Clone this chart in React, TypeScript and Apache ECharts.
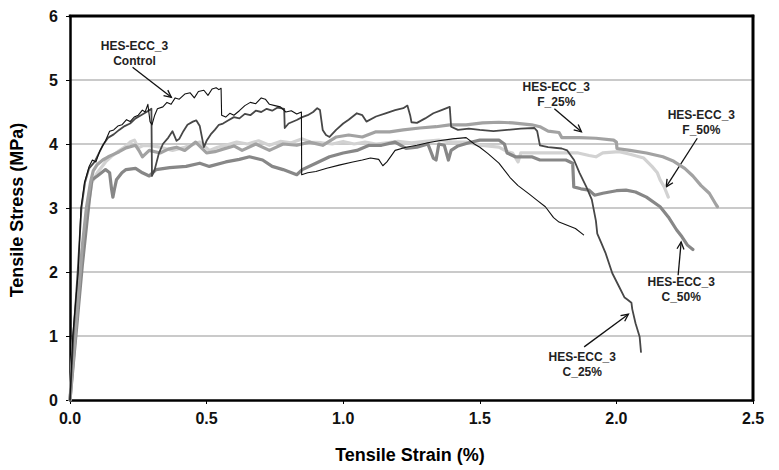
import React, { useEffect, useRef } from "react";
import * as echarts from "echarts";

const xTicks = [0, 0.5, 1.0, 1.5, 2.0, 2.5];
const yTicks = [0, 1, 2, 3, 4, 5, 6];

const controlData: number[][] = [
  [0, 0], [0.01, 1.0], [0.03, 2.0], [0.04, 3.0], [0.053, 3.4], [0.07, 3.65], [0.082, 3.75], [0.095, 3.72],
  [0.11, 3.9], [0.13, 4.05], [0.145, 4.2], [0.16, 4.22], [0.175, 4.28], [0.19, 4.3], [0.207, 4.38], [0.22, 4.35],
  [0.235, 4.42], [0.25, 4.45], [0.265, 4.53], [0.275, 4.5], [0.285, 4.62], [0.293, 4.35], [0.3, 4.3], [0.31, 4.45],
  [0.32, 4.55], [0.34, 4.58], [0.355, 4.65], [0.37, 4.62], [0.385, 4.72], [0.4, 4.7], [0.42, 4.78], [0.44, 4.8],
  [0.455, 4.72], [0.47, 4.82], [0.49, 4.84], [0.505, 4.76], [0.52, 4.86], [0.535, 4.88], [0.545, 4.85], [0.553, 4.87],
  [0.555, 4.45], [0.57, 4.42], [0.585, 4.48], [0.6, 4.45], [0.62, 4.52], [0.64, 4.6], [0.66, 4.65], [0.68, 4.63],
  [0.7, 4.72], [0.715, 4.7], [0.73, 4.62], [0.75, 4.6], [0.77, 4.58], [0.79, 4.5], [0.81, 4.52], [0.83, 4.47],
  [0.847, 4.5], [0.848, 3.52], [0.87, 3.55], [0.9, 3.57], [0.94, 3.62], [0.985, 3.67], [1.035, 3.72], [1.07, 3.75],
  [1.1, 3.78], [1.13, 3.76], [1.145, 3.66], [1.16, 3.72], [1.19, 3.9], [1.23, 3.95], [1.27, 3.98], [1.31, 4.02],
  [1.35, 4.05], [1.4, 4.08], [1.45, 4.1], [1.48, 4.0], [1.5, 3.95], [1.53, 3.85], [1.57, 3.7], [1.61, 3.48],
  [1.64, 3.35], [1.68, 3.22], [1.71, 3.12], [1.74, 3.02], [1.77, 2.85], [1.79, 2.78], [1.82, 2.73], [1.85, 2.68],
  [1.88, 2.58],
];

const c25Data: number[][] = [
  [0, 0], [0.012, 1.0], [0.028, 2.0], [0.042, 3.0], [0.055, 3.4], [0.07, 3.62], [0.09, 3.72], [0.105, 3.85],
  [0.12, 3.98], [0.14, 4.1], [0.16, 4.15], [0.18, 4.22], [0.2, 4.28], [0.22, 4.32], [0.24, 4.4], [0.26, 4.45],
  [0.28, 4.5], [0.298, 4.55], [0.3, 3.5], [0.31, 3.6], [0.325, 3.85], [0.34, 4.0], [0.36, 4.1], [0.375, 4.2],
  [0.39, 4.05], [0.4, 4.08], [0.415, 4.2], [0.43, 4.3], [0.45, 4.35], [0.462, 4.37], [0.475, 4.28], [0.49, 3.95],
  [0.5, 4.05], [0.515, 4.15], [0.53, 4.22], [0.545, 4.3], [0.56, 4.32], [0.58, 4.37], [0.6, 4.42], [0.62, 4.4],
  [0.64, 4.47], [0.66, 4.45], [0.68, 4.52], [0.7, 4.5], [0.72, 4.55], [0.74, 4.52], [0.76, 4.57], [0.784, 4.55],
  [0.786, 4.25], [0.8, 4.32], [0.83, 4.375], [0.85, 4.42], [0.87, 4.45], [0.89, 4.5], [0.905, 4.56], [0.915, 4.53],
  [0.925, 4.22], [0.937, 4.14], [0.95, 4.11], [0.974, 4.22], [1.0, 4.32], [1.02, 4.38], [1.05, 4.48], [1.07, 4.45],
  [1.085, 4.35], [1.12, 4.43], [1.155, 4.48], [1.19, 4.53], [1.22, 4.56], [1.235, 4.6], [1.245, 4.45], [1.25, 4.34],
  [1.27, 4.33], [1.3, 4.4], [1.33, 4.48], [1.36, 4.53], [1.39, 4.58], [1.395, 4.27], [1.42, 4.22], [1.46, 4.24],
  [1.5, 4.22], [1.55, 4.2], [1.6, 4.22], [1.65, 4.24], [1.7, 4.25], [1.71, 4.2], [1.72, 3.98], [1.75, 3.95],
  [1.8, 3.93], [1.82, 3.9], [1.845, 3.75], [1.865, 3.55], [1.89, 3.33], [1.91, 3.13], [1.925, 2.8], [1.93, 2.6],
  [1.945, 2.45], [1.96, 2.3], [1.985, 1.98], [2.01, 1.77], [2.03, 1.6], [2.04, 1.57], [2.055, 1.52], [2.058, 1.42],
  [2.07, 1.2], [2.085, 0.99], [2.09, 0.75],
];

const f25Data: number[][] = [
  [0, 0], [0.015, 0.8], [0.03, 1.6], [0.045, 2.4], [0.06, 3.0], [0.075, 3.4], [0.085, 3.58], [0.1, 3.68],
  [0.12, 3.75], [0.14, 3.8], [0.155, 3.83], [0.18, 3.88], [0.205, 3.94], [0.24, 3.98], [0.255, 3.88], [0.265, 3.8],
  [0.29, 3.9], [0.33, 3.86], [0.36, 3.92], [0.39, 3.95], [0.42, 3.9], [0.46, 4.03], [0.5, 3.86], [0.53, 3.88],
  [0.56, 3.92], [0.6, 3.97], [0.63, 3.9], [0.68, 4.0], [0.73, 3.9], [0.78, 4.0], [0.83, 3.98], [0.876, 4.03],
  [0.925, 3.98], [0.975, 4.11], [1.02, 4.14], [1.07, 4.11], [1.12, 4.19], [1.17, 4.19], [1.22, 4.22], [1.28, 4.25],
  [1.34, 4.27], [1.39, 4.3], [1.45, 4.3], [1.51, 4.33], [1.57, 4.34], [1.62, 4.33], [1.69, 4.3], [1.72, 4.27],
  [1.75, 4.2], [1.79, 4.18], [1.8, 4.1], [1.865, 4.1], [1.925, 4.09], [1.99, 4.06], [2.0, 4.03], [2.002, 3.93],
  [2.05, 3.9], [2.11, 3.86], [2.17, 3.8], [2.21, 3.73], [2.25, 3.62], [2.28, 3.5], [2.31, 3.35], [2.34, 3.23],
  [2.365, 3.05], [2.37, 3.02],
];

const c50Data: number[][] = [
  [0, 0], [0.015, 0.7], [0.03, 1.4], [0.045, 2.1], [0.06, 2.7], [0.07, 3.1], [0.08, 3.44], [0.1, 3.5],
  [0.13, 3.6], [0.145, 3.55], [0.152, 3.3], [0.157, 3.17], [0.163, 3.3], [0.17, 3.44], [0.19, 3.55], [0.205, 3.6],
  [0.24, 3.62], [0.265, 3.55], [0.29, 3.5], [0.315, 3.6], [0.365, 3.63], [0.425, 3.65], [0.475, 3.7], [0.51, 3.65],
  [0.57, 3.72], [0.62, 3.76], [0.657, 3.8], [0.705, 3.75], [0.74, 3.65], [0.78, 3.6], [0.83, 3.52], [0.85, 3.6],
  [0.9, 3.7], [0.95, 3.8], [1.0, 3.86], [1.05, 3.9], [1.095, 3.98], [1.14, 3.98], [1.19, 4.03], [1.23, 3.93],
  [1.27, 3.95], [1.31, 4.0], [1.33, 3.78], [1.34, 3.75], [1.35, 4.0], [1.37, 3.98], [1.385, 3.75], [1.395, 3.9],
  [1.42, 3.97], [1.46, 4.02], [1.5, 4.06], [1.57, 4.06], [1.59, 4.0], [1.6, 3.86], [1.63, 3.8], [1.69, 3.8],
  [1.72, 3.75], [1.815, 3.75], [1.84, 3.7], [1.844, 3.33], [1.87, 3.3], [1.9, 3.28], [1.92, 3.2], [1.95, 3.23],
  [2.0, 3.27], [2.035, 3.28], [2.07, 3.25], [2.11, 3.17], [2.16, 3.02], [2.19, 2.86], [2.22, 2.66], [2.24, 2.55],
  [2.26, 2.42], [2.28, 2.35],
];

const f50Data: number[][] = [
  [0, 0], [0.012, 0.9], [0.023, 1.5], [0.04, 2.2], [0.06, 2.8], [0.07, 3.13], [0.08, 3.4], [0.1, 3.55],
  [0.13, 3.72], [0.15, 3.8], [0.175, 3.88], [0.2, 3.95], [0.22, 4.03], [0.236, 4.06], [0.25, 3.94], [0.27, 3.98],
  [0.3, 3.97], [0.33, 3.95], [0.375, 3.9], [0.42, 3.95], [0.475, 4.03], [0.51, 3.9], [0.54, 3.95], [0.57, 3.98],
  [0.61, 4.03], [0.65, 4.0], [0.69, 4.05], [0.73, 3.98], [0.77, 4.04], [0.81, 4.02], [0.85, 4.08], [0.88, 4.03],
  [0.92, 4.02], [0.96, 4.0], [1.0, 4.04], [1.04, 4.0], [1.08, 4.03], [1.12, 4.0], [1.16, 4.02], [1.2, 4.04],
  [1.25, 4.02], [1.3, 4.04], [1.35, 4.06], [1.4, 4.03], [1.45, 4.03], [1.5, 3.98], [1.57, 3.95], [1.6, 3.88],
  [1.62, 3.86], [1.64, 3.72], [1.65, 3.86], [1.7, 3.86], [1.76, 3.86], [1.82, 3.86], [1.86, 3.86], [1.9, 3.82],
  [1.925, 3.8], [1.95, 3.86], [2.01, 3.88], [2.05, 3.84], [2.1, 3.78], [2.13, 3.65], [2.15, 3.55], [2.16, 3.44],
  [2.175, 3.33], [2.19, 3.17],
];

// annotations: label text, label anchor (data coords), arrow start, arrow end
const annLabels = ["HES-ECC_3\nControl", "HES-ECC_3\nF_25%", "HES-ECC_3\nF_50%", "HES-ECC_3\nC_50%", "HES-ECC_3\nC_25%"];
const annText = [[0.236, 5.42], [1.78, 4.78], [2.311, 4.33], [2.237, 1.72], [1.875, 0.56]];
const annFrom = [[0.229, 5.2], [1.773, 4.55], [2.296, 4.09], [2.226, 1.95], [1.882, 0.83]];
const annTo = [[0.371, 4.73], [1.872, 4.19], [2.182, 3.33], [2.237, 2.47], [2.044, 1.34]];

const FONT = "'Liberation Sans', Arial, sans-serif";

export default function App() {
  const ref = useRef<HTMLDivElement>(null);
  useEffect(() => {
    if (!ref.current) return;
    const chart = echarts.init(ref.current, undefined, { renderer: "svg" });
    const mk = (name: string, data: number[][], color: string, width: number) => ({
      name,
      type: "line",
      data,
      showSymbol: false,
      symbol: "none",
      lineStyle: { color, width, join: "round", cap: "round" },
      silent: true,
    });
    const xMin = xTicks[0], xMax = xTicks[xTicks.length - 1];
    const yMin = yTicks[0], yMax = yTicks[yTicks.length - 1];
    chart.setOption({
      animation: false,
      grid: { left: 70, right: 26, top: 16, bottom: 70 },
      xAxis: {
        type: "value",
        min: xMin,
        max: xMax,
        interval: 0.5,
        axisLine: { show: true, onZero: false, lineStyle: { color: "#000", width: 2.5 } },
        axisTick: { show: true, length: 4, lineStyle: { color: "#000", width: 1 } },
        splitLine: { show: false },
        axisLabel: { formatter: (v: number) => v.toFixed(1), fontFamily: FONT, fontWeight: "bold", fontSize: 16, color: "#111", margin: 10 },
      },
      yAxis: {
        type: "value",
        min: yMin,
        max: yMax,
        interval: 1,
        axisLine: { show: true, lineStyle: { color: "#000", width: 2.5 } },
        axisTick: { show: true, length: 4, lineStyle: { color: "#000", width: 1 } },
        splitLine: { show: true, showMinLine: false, showMaxLine: false, lineStyle: { color: "#b8b8b8", width: 1.5 } },
        axisLabel: { formatter: (v: number) => String(v), fontFamily: FONT, fontWeight: "bold", fontSize: 16, color: "#111", margin: 12 },
      },
      series: [
        mk("HES-ECC_3 F_50%", f50Data, "#d2d2d2", 3.2),
        mk("HES-ECC_3 C_50%", c50Data, "#878787", 3.2),
        mk("HES-ECC_3 F_25%", f25Data, "#a2a2a2", 3.2),
        mk("HES-ECC_3 C_25%", c25Data, "#474747", 1.8),
        mk("HES-ECC_3 Control", controlData, "#111111", 1.1),
      ],
    });

    const px = (p: number[]) => chart.convertToPixel({ xAxisIndex: 0, yAxisIndex: 0 }, p) as number[];
    const tl = px([xMin, yMax]);
    const br = px([xMax, yMin]);
    const graphics: any[] = [
      {
        type: "line",
        z: 100,
        silent: true,
        shape: { x1: tl[0] - 1.2, y1: tl[1], x2: br[0] + 1.2, y2: tl[1] },
        style: { stroke: "#000000", lineWidth: 3 },
      },
      {
        type: "line",
        z: 100,
        silent: true,
        shape: { x1: br[0], y1: tl[1] - 1.2, x2: br[0], y2: br[1] + 1.2 },
        style: { stroke: "#000000", lineWidth: 3 },
      },
      {
        type: "text",
        x: 410,
        y: 455,
        style: { text: "Tensile Strain (%)", font: `bold 18px ${FONT}`, fill: "#000", align: "center", verticalAlign: "middle" },
      },
      {
        type: "text",
        x: 17,
        y: 210,
        rotation: Math.PI / 2,
        style: { text: "Tensile Stress (MPa)", font: `bold 18px ${FONT}`, fill: "#000", align: "center", verticalAlign: "middle" },
      },
    ];
    annLabels.forEach((label, i) => {
      const t = px(annText[i]);
      const a = px(annFrom[i]);
      const b = px(annTo[i]);
      graphics.push({
        type: "text",
        x: t[0],
        y: t[1],
        style: { text: label, font: `bold 12px ${FONT}`, fill: "#222", align: "center", verticalAlign: "middle", lineHeight: 15 },
      });
      graphics.push({ type: "line", shape: { x1: a[0], y1: a[1], x2: b[0], y2: b[1] }, style: { stroke: "#111", lineWidth: 1.3 } });
      const ang = Math.atan2(b[1] - a[1], b[0] - a[0]);
      const L = 8, w = 0.45;
      const p1 = [b[0] - L * Math.cos(ang - w), b[1] - L * Math.sin(ang - w)];
      const p2 = [b[0] - L * Math.cos(ang + w), b[1] - L * Math.sin(ang + w)];
      graphics.push({ type: "polyline", shape: { points: [p1, b, p2] }, style: { stroke: "#111", lineWidth: 1.3, fill: "none" } });
    });
    chart.setOption({ graphic: graphics });
    return () => chart.dispose();
  }, []);
  return <div ref={ref} style={{ position: "fixed", left: 0, top: 0, width: 779, height: 470, background: "#fff" }} />;
}
